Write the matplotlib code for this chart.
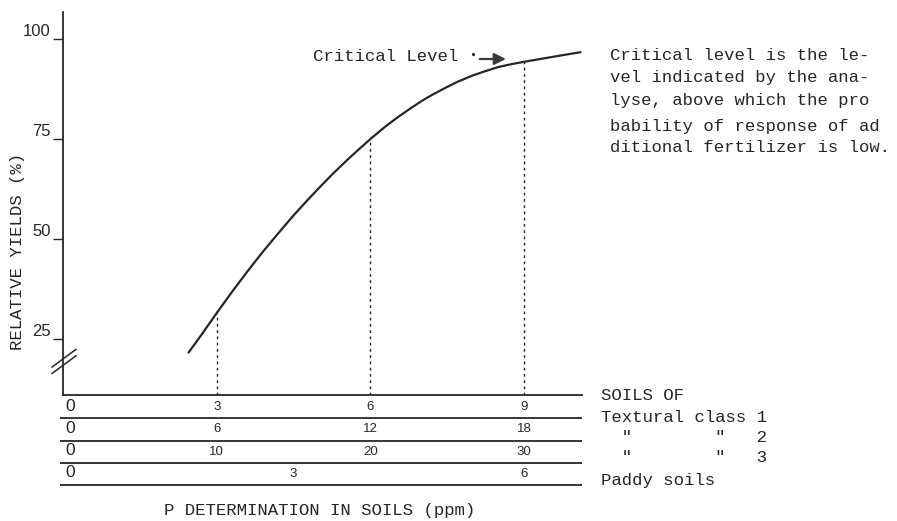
import matplotlib
matplotlib.use("Agg")
import matplotlib.pyplot as plt
from matplotlib.transforms import blended_transform_factory

# response curve: P in soil (textural class 1 scale, ppm) vs relative yield (%)
p_ppm = [2.45, 2.7, 3.0, 3.3, 3.6, 3.9, 4.2, 4.5, 4.75, 5.0, 5.25, 5.6, 6.0,
         6.3, 6.55, 6.8, 7.0, 7.2, 7.45, 7.7, 8.0, 8.25, 8.5, 8.75, 9.0,
         9.25, 9.45, 9.75, 10.1]
rel_yield = [21.6, 26.0, 31.5, 36.8, 41.9, 46.8, 51.4, 55.9, 59.4, 62.8, 66.1,
             70.4, 75.0, 78.2, 80.6, 82.8, 84.5, 86.0, 87.7, 89.3, 90.9, 92.0,
             93.0, 93.7, 94.3, 94.85, 95.3, 95.95, 96.7]
y_ticks = [25, 50, 75, 100]

# columns marked with dotted drops, and what they read on each soil scale
marks = [3, 6, 9]
textural_1 = [3, 6, 9]
textural_2 = [6, 12, 18]
textural_3 = [10, 20, 30]
paddy = [3, 6]
paddy_full = 6  # paddy scale: 6 ppm lines up with the critical column

row_labels = ["SOILS OF", "Textural class 1", '  "        "   2', '  "        "   3', "Paddy soils"]
note_lines = [
    "Critical level is the le-",
    "vel indicated by the ana-",
    "lyse, above which the pro",
    "bability of response of ad",
    "ditional fertilizer is low.",
]

INK = "#262626"
MONO = "Liberation Mono"
SANS = "Liberation Sans"

W, H = 897, 521
fig = plt.figure(figsize=(W / 100, H / 100), dpi=100)


def fx(px):
    return px / W


def fy(py):
    return 1 - py / H


ax = fig.add_axes([fx(63), fy(395), (582 - 63) / W, (395 - 12) / H])
ax.set_xlim(0, 10.13)
ax.set_ylim(11, 106.75)
for s in ("top", "right"):
    ax.spines[s].set_visible(False)
for s in ("left", "bottom"):
    ax.spines[s].set_color(INK)
    ax.spines[s].set_linewidth(1.3)
ax.set_xticks([])
ax.set_yticks(y_ticks)
ax.tick_params(axis="y", direction="out", length=7, width=1, pad=2,
               colors=INK, labelsize=12)
for lbl in ax.get_yticklabels():
    lbl.set_fontfamily(SANS)
    lbl.set_verticalalignment("bottom")

# curve and dotted drops to the axis
ax.plot(p_ppm, rel_yield, color=INK, lw=1.6, solid_capstyle="round",
        solid_joinstyle="round")
for m in marks:
    ax.plot([m, m], [11, rel_yield[p_ppm.index(m)]], color=INK, lw=1,
            linestyle=(0, (2, 2.5)))

# axis break marks
tr = blended_transform_factory(ax.transAxes, ax.transData)
for yc in (18.6, 20.2):
    ax.plot([-0.021, 0.025], [yc - 2.2, yc + 2.2], color=INK, lw=1.1,
            transform=tr, clip_on=False)

# critical level pointer
ax.text(7.72, 95.7, "Critical Level", ha="right", va="center",
        fontfamily=MONO, fontsize=12.5, color=INK)
ax.plot([8.0], [96.2], marker=".", ms=2.5, color=INK)
ax.annotate("", xy=(8.7, 95.0), xytext=(8.08, 95.0),
            arrowprops=dict(arrowstyle="-|>,head_length=0.7,head_width=0.35",
                            color="#3a3a3a", lw=1.6))

# scales for the different soils below the axis
tab = fig.add_axes([fx(63), fy(485), (582 - 63) / W, (485 - 396) / H])
tab.set_xlim(0, 10.13)
tab.set_ylim(4, 0)
tab.axis("off")
tab.hlines([1, 2, 3, 4], -0.06, 10.13, color=INK, lw=1.3, clip_on=False)

for row, vals in enumerate([textural_1, textural_2, textural_3]):
    for m, v in zip(marks, vals):
        tab.text(m, row + 0.5, str(v), ha="center", va="center",
                 fontfamily=SANS, fontsize=9.5, color=INK)
for v in paddy:
    tab.text(v * marks[-1] / paddy_full, 3.5, str(v), ha="center", va="center",
             fontfamily=SANS, fontsize=9.5, color=INK)
for row in range(4):
    tab.text(0.05, row + 0.45, "0", ha="left", va="center",
             fontfamily=SANS, fontsize=12.5, color=INK)

for lbl, py in zip(row_labels, [395, 417, 438, 457, 480]):
    fig.text(fx(601), fy(py), lbl, ha="left", va="center",
             fontfamily=MONO, fontsize=12.5, color=INK)

for line, py in zip(note_lines, [55, 78, 100, 126, 147]):
    fig.text(fx(610), fy(py), line, ha="left", va="center",
             fontfamily=MONO, fontsize=12.4, color=INK)

fig.text(fx(320), fy(510), "P DETERMINATION IN SOILS (ppm)", ha="center",
         va="center", fontfamily=MONO, fontsize=12.5, color=INK)
fig.text(fx(18), fy(251), "RELATIVE YIELDS (%)", ha="center", va="center",
         rotation=90, fontfamily=MONO, fontsize=12.5, color=INK)

fig.savefig("out.png", dpi=100, facecolor="white")
